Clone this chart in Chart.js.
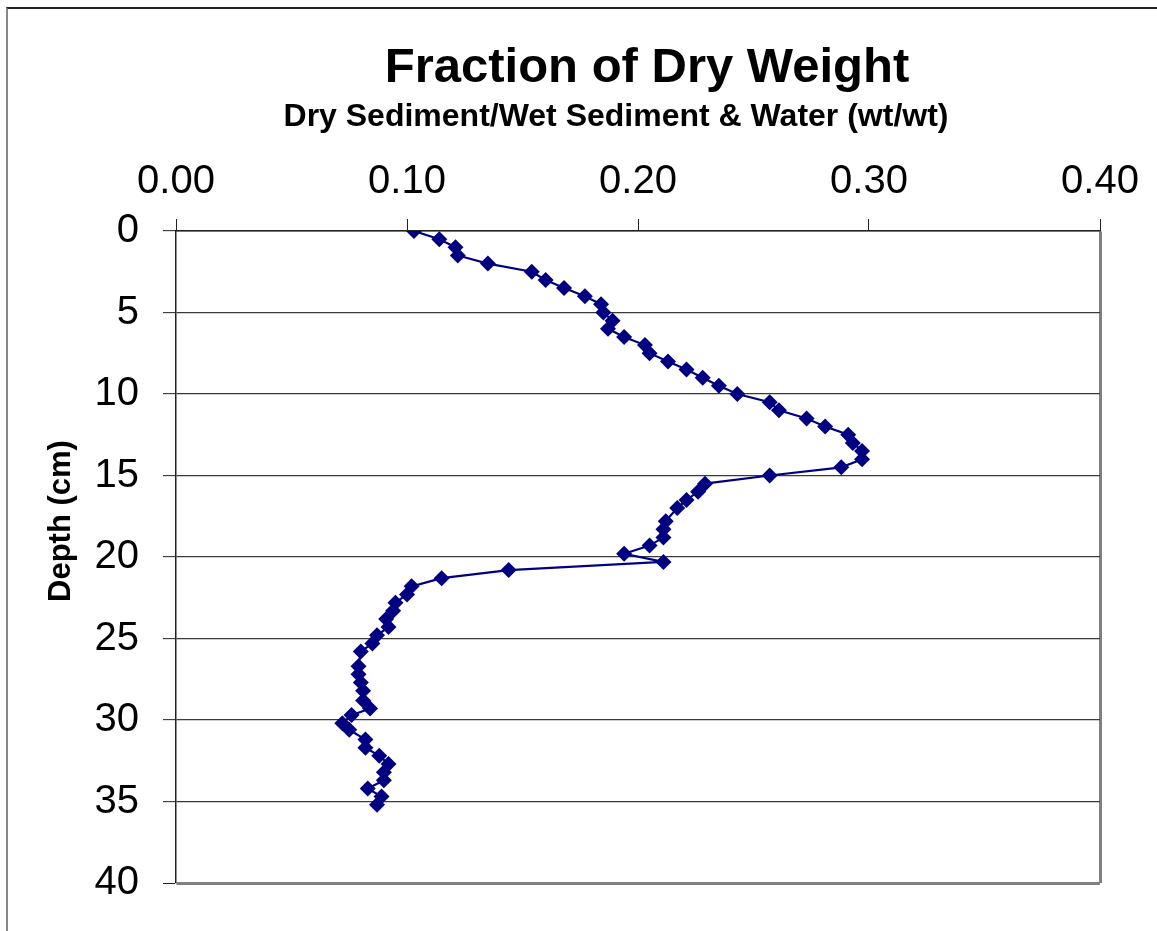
<!DOCTYPE html>
<html>
<head>
<meta charset="utf-8">
<title>Fraction of Dry Weight</title>
<script src="https://cdn.jsdelivr.net/npm/chart.js@4.4.1/dist/chart.umd.min.js"></script>
<style>
    body { margin: 0; background: #fff; }
    #frame {
        position: absolute;
        left: 6px;
        top: 7px;
        width: 1200px;
        height: 1000px;
        border-left: 2px solid #888;
        border-top: 2px solid #222;
    }
    #myChart { position: absolute; left: 0; top: 0; }
</style>
</head>
<body>
<div id="frame"></div>
<canvas id="myChart" width="1157" height="931"></canvas>
<script>
// hloubka jádra (cm)
const depths = [
    0, 0.5, 1, 1.5, 2, 2.5, 3, 3.5, 4, 4.5,
    5, 5.5, 6, 6.5, 7, 7.5, 8, 8.5, 9, 9.5,
    10, 10.5, 11, 11.5, 12, 12.5, 13, 13.5, 14, 14.5,
    15, 15.5, 16, 16.5, 17, 17.8, 18.3, 18.8, 19.3, 19.8,
    20.3, 20.8, 21.3, 21.8, 22.3, 22.8, 23.3, 23.8, 24.3, 24.8,
    25.3, 25.8, 26.7, 27.2, 27.7, 28.2, 28.8, 29.3, 29.7, 30.2,
    30.6, 31.2, 31.7, 32.2, 32.7, 33.2, 33.7, 34.2, 34.7, 35.2
];

// podíl suché hmoty (wt/wt)
const dryFraction = [
    0.103, 0.114, 0.121, 0.122, 0.135, 0.154, 0.160, 0.168, 0.177, 0.184,
    0.185, 0.189, 0.187, 0.194, 0.203, 0.205, 0.213, 0.221, 0.228, 0.235,
    0.243, 0.257, 0.261, 0.273, 0.281, 0.291, 0.293, 0.297, 0.297, 0.288,
    0.257, 0.229, 0.226, 0.221, 0.217, 0.212, 0.211, 0.211, 0.205, 0.194,
    0.211, 0.144, 0.115, 0.102, 0.100, 0.095, 0.094, 0.091, 0.092, 0.087,
    0.085, 0.080, 0.079, 0.079, 0.080, 0.081, 0.081, 0.084, 0.076, 0.072,
    0.075, 0.082, 0.082, 0.088, 0.092, 0.090, 0.090, 0.083, 0.089, 0.087
];

const xTicks = [0, 0.1, 0.2, 0.3, 0.4];
const yTicks = [0, 5, 10, 15, 20, 25, 30, 35, 40];

const titleText = 'Fraction of Dry Weight';
const subtitleText = 'Dry Sediment/Wet Sediment & Water (wt/wt)';
const yTitleText = 'Depth (cm)';

const points = depths.map((d, i) => ({ x: dryFraction[i], y: d }));

const FONT = 'Arial, "Liberation Sans", sans-serif';

// nadpisy a popisek osy Y - kreslené ručně, ať sedí na místě
const textPlugin = {
    id: 'texts',
    afterDraw(chart) {
        const ctx = chart.ctx;
        ctx.save();
        ctx.fillStyle = '#000';
        ctx.textAlign = 'center';
        ctx.textBaseline = 'middle';

        ctx.font = 'bold 49px ' + FONT;
        ctx.fillText(titleText, 647, 68);

        ctx.font = 'bold 32px ' + FONT;
        ctx.fillText(subtitleText, 616, 117);

        ctx.translate(61, 521);
        ctx.rotate(-Math.PI / 2);
        ctx.font = 'bold 31px ' + FONT;
        ctx.fillText(yTitleText, 0, 0);
        ctx.restore();
    }
};

const isLast = (v, last) => Math.abs(v - last) < 1e-9;

const ctx = document.getElementById('myChart').getContext('2d');
const myChart = new Chart(ctx, {
    type: 'scatter',
    data: {
        datasets: [{
            data: points,
            showLine: true,
            borderColor: '#000080',
            borderWidth: 2.2,
            backgroundColor: '#000080',
            pointStyle: 'rectRot',
            pointRadius: 8,
            pointHoverRadius: 8,
            pointBorderWidth: 0
        }]
    },
    options: {
        responsive: false,
        animation: false,
        devicePixelRatio: 1,
        layout: {
            padding: { left: 0, right: 57, top: 0, bottom: 47 }
        },
        plugins: {
            legend: { display: false },
            tooltip: { enabled: false },
            title: { display: false }
        },
        scales: {
            x: {
                type: 'linear',
                position: 'top',
                min: 0,
                max: 0.4,
                afterBuildTicks: axis => { axis.ticks = xTicks.map(v => ({ value: v })); },
                afterFit: axis => { axis.height = 231; },
                ticks: {
                    color: '#000',
                    font: { family: FONT, size: 40 },
                    padding: 13,
                    maxRotation: 0,
                    callback: v => v.toFixed(2)
                },
                grid: {
                    drawOnChartArea: true,
                    color: c => (c.tick && isLast(c.tick.value, 0.4)) ? '#808080' : 'rgba(0,0,0,0)',
                    lineWidth: c => (c.tick && isLast(c.tick.value, 0.4)) ? 3 : 1,
                    tickColor: '#222',
                    tickWidth: 1,
                    tickLength: 12
                },
                border: { display: true, color: '#222', width: 1.5 }
            },
            y: {
                type: 'linear',
                reverse: true,
                min: 0,
                max: 40,
                afterBuildTicks: axis => { axis.ticks = yTicks.map(v => ({ value: v })); },
                afterFit: axis => { axis.width = 176; },
                ticks: {
                    color: '#000',
                    font: { family: FONT, size: 40 },
                    padding: 24
                },
                grid: {
                    color: c => (c.tick && c.tick.value === 40) ? '#808080' : '#3a3a3a',
                    lineWidth: c => (c.tick && c.tick.value === 40) ? 3 : 1.3,
                    tickColor: '#222',
                    tickWidth: 1,
                    tickLength: 13
                },
                border: { display: true, color: '#222', width: 1.5 }
            }
        }
    },
    plugins: [textPlugin]
});
</script>
</body>
</html>
